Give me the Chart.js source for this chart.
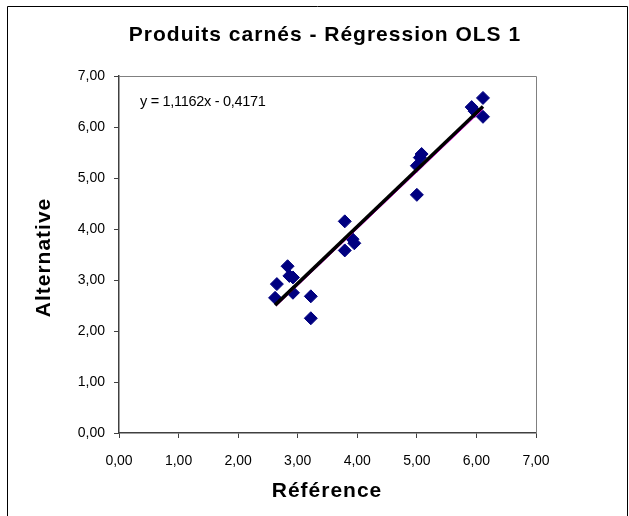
<!DOCTYPE html>
<html>
<head>
<meta charset="utf-8">
<script src="https://cdn.jsdelivr.net/npm/chart.js@4.4.1/dist/chart.umd.min.js"></script>
<style>
  html, body { margin: 0; padding: 0; background: #fff; }
  #wrap { width: 629px; height: 516px; }
</style>
</head>
<body>
<div id="wrap"><canvas id="olsChart" width="629" height="516"></canvas></div>
<script>
// reference vs alternative measurements
const refValues = [2.62, 2.65, 2.83, 2.86, 2.92, 2.92, 3.22, 3.22, 3.79, 3.79, 3.92, 3.95, 5.00, 5.00, 5.05, 5.08, 5.92, 5.97, 6.11, 6.11];
const altValues = [2.65, 2.92, 3.27, 3.08, 3.05, 2.75, 2.68, 2.25, 4.15, 3.58, 3.80, 3.72, 4.67, 5.24, 5.40, 5.47, 6.39, 6.31, 6.57, 6.20];

// OLS fit y = 1,1162x - 0,4171
const slope = 1.1162;
const intercept = -0.4171;
const fitX = [2.62, 6.11];
const fitY = fitX.map(x => slope * x + intercept);
// second (pink) line just under the fit
const pinkX = [2.64, 6.11];
const pinkY = [2.49, 6.35];

const axisTicks = [0, 1, 2, 3, 4, 5, 6, 7];

const titleText = 'Produits carnés - Régression OLS 1';
const xTitle = 'Référence';
const yTitle = 'Alternative';
const eqText = 'y = 1,1162x - 0,4171';

function fmt(v) {
    return v.toFixed(2).replace('.', ',');
}

const textPlugin = {
    id: 'texts',
    beforeDraw(chart) {
        const ctx = chart.ctx;
        ctx.save();
        ctx.strokeStyle = '#000';
        ctx.lineWidth = 1;
        ctx.beginPath();
        ctx.moveTo(7.5, 520);
        ctx.lineTo(7.5, 6.5);
        ctx.lineTo(627.5, 6.5);
        ctx.lineTo(627.5, 520);
        ctx.stroke();
        ctx.restore();
    },
    afterDraw(chart) {
        const ctx = chart.ctx;
        const area = chart.chartArea;
        ctx.save();
        // plot box top and right edges
        ctx.strokeStyle = '#808080';
        ctx.lineWidth = 1;
        ctx.beginPath();
        ctx.moveTo(area.left, Math.round(area.top) + 0.5);
        ctx.lineTo(Math.round(area.right) + 0.5, Math.round(area.top) + 0.5);
        ctx.lineTo(Math.round(area.right) + 0.5, area.bottom);
        ctx.stroke();

        ctx.fillStyle = '#000';
        ctx.textAlign = 'center';
        ctx.textBaseline = 'middle';
        ctx.letterSpacing = '1px';
        ctx.font = 'bold 21px "Liberation Sans", Arial, sans-serif';
        ctx.fillText(titleText, 325, 35);
        ctx.fillText(xTitle, 327, 491);
        ctx.translate(44, (area.top + area.bottom) / 2 + 3);
        ctx.rotate(-Math.PI / 2);
        ctx.fillText(yTitle, 0, 0);
        ctx.restore();

        ctx.save();
        ctx.fillStyle = '#000';
        ctx.font = '14.5px "Liberation Sans", Arial, sans-serif';
        ctx.textAlign = 'left';
        ctx.textBaseline = 'middle';
        ctx.letterSpacing = '-0.3px';
        ctx.fillText(eqText, 140, 102);
        ctx.restore();
    }
};

const tickFont = { family: '"Liberation Sans", Arial, sans-serif', size: 14 };

new Chart(document.getElementById('olsChart'), {
    type: 'scatter',
    data: {
        datasets: [
            {
                label: 'Alternative',
                data: refValues.map((x, i) => ({ x: x, y: altValues[i] })),
                pointStyle: 'rectRot',
                pointRadius: 6.5,
                pointHoverRadius: 6.5,
                backgroundColor: '#000080',
                borderColor: '#000080',
                borderWidth: 1,
                order: 3
            },
            {
                label: 'pink',
                type: 'line',
                data: pinkX.map((x, i) => ({ x: x, y: pinkY[i] })),
                borderColor: '#ff00ff',
                borderWidth: 1,
                pointRadius: 0,
                fill: false,
                order: 2
            },
            {
                label: 'Linéaire',
                type: 'line',
                data: fitX.map((x, i) => ({ x: x, y: fitY[i] })),
                borderColor: '#000',
                borderWidth: 3.5,
                pointRadius: 0,
                fill: false,
                order: 1
            }
        ]
    },
    options: {
        responsive: false,
        animation: false,
        events: [],
        layout: { padding: { top: 76, right: 93, bottom: 0, left: 0 } },
        plugins: {
            legend: { display: false },
            title: { display: false },
            tooltip: { enabled: false }
        },
        scales: {
            x: {
                type: 'linear',
                min: 0,
                max: 7,
                afterFit: scale => { scale.height = 83; },
                afterBuildTicks: scale => { scale.ticks = axisTicks.map(v => ({ value: v })); },
                border: { color: '#404040', width: 1.5 },
                grid: { drawOnChartArea: false, drawTicks: true, tickLength: 5, color: '#404040' },
                ticks: { color: '#000', font: tickFont, padding: 15, maxRotation: 0, callback: v => fmt(v) }
            },
            y: {
                type: 'linear',
                min: 0,
                max: 7,
                afterFit: scale => { scale.width = 119; },
                afterBuildTicks: scale => { scale.ticks = axisTicks.map(v => ({ value: v })); },
                border: { color: '#404040', width: 1.5 },
                grid: { drawOnChartArea: false, drawTicks: true, tickLength: 5, color: '#404040' },
                ticks: { color: '#000', font: tickFont, padding: 9, callback: v => fmt(v) }
            }
        }
    },
    plugins: [textPlugin]
});
</script>
</body>
</html>
